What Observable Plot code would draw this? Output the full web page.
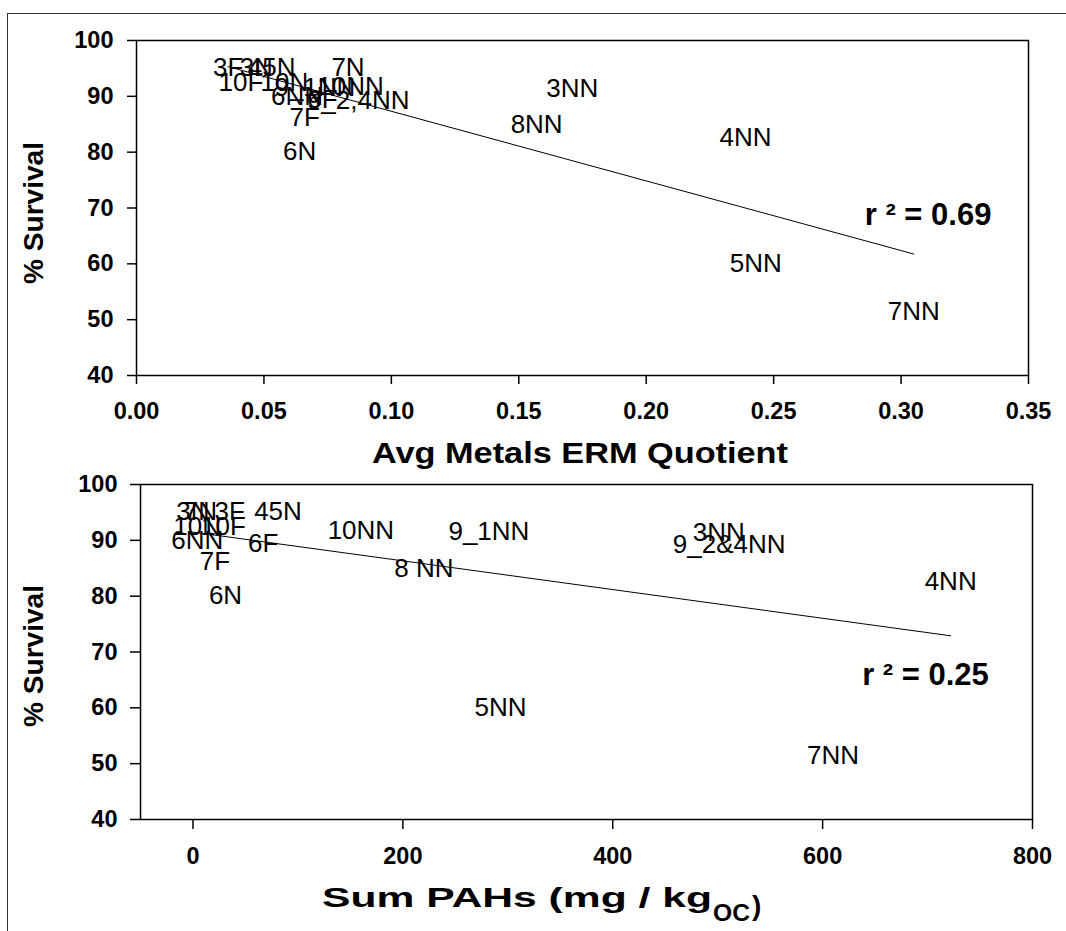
<!DOCTYPE html>
<html><head><meta charset="utf-8">
<script src="https://cdn.jsdelivr.net/npm/d3@7"></script>
<script src="https://cdn.jsdelivr.net/npm/@observablehq/plot@0.6"></script>
<style>
html,body{margin:0;padding:0;background:#fff;overflow:hidden;}
#page{position:relative;width:1066px;height:931px;overflow:hidden;font-family:"Liberation Sans",Arial,sans-serif;}
#frame{position:absolute;left:7px;top:13px;width:1200px;height:1100px;border-left:1.5px solid #333;border-top:1.5px solid #333;box-sizing:border-box;}
.chart{position:absolute;left:0;}
g[aria-label="x-axis tick"] path, g[aria-label="y-axis tick"] path{stroke-width:1.5;}
</style></head>
<body>
<div id="page"><div id="frame"></div><div id="top" class="chart" style="top:0px"></div><div id="bot" class="chart" style="top:470px"></div></div>
<script>
// Station labels as written on each panel
const metalLabels = ["3N","7N","3F","45N","10N","10F","6NN","6F","7F","6N","10NN","9_1NN","8NN","3NN","9_2,4NN","4NN","5NN","7NN"];
const pahLabels   = ["3N","7N","3F","45N","10N","10F","6NN","6F","7F","6N","10NN","9_1NN","8 NN","3NN","9_2&4NN","4NN","5NN","7NN"];
// % Survival per station
const survival = [95.2,95.2,95.2,95.2,92.5,92.5,90.0,89.4,86.2,80.0,91.7,91.6,85.0,91.4,89.3,82.6,60.0,51.4];
// Avg Metals ERM Quotient per station
const metalsERM = [0.047,0.083,0.036,0.053,0.058,0.041,0.063,0.073,0.066,0.064,0.084,0.070,0.157,0.171,0.087,0.239,0.243,0.305];
// Sum PAHs (mg/kg OC) per station
const sumPAH = [0,7,35,81,4,29,4,67,21,31,160,282,220,501,511,722,293,610];
// axis ticks
const yTicks = [40,50,60,70,80,90,100];
const metalTicks = [0,0.05,0.10,0.15,0.20,0.25,0.30,0.35];
const pahTicks = [0,200,400,600,800];
// r² annotations
const r2Metal = [{x:0.3106, y:68.7, text:"r ² = 0.69"}];
const r2PAH = [{x:698, y:65.8, text:"r ² = 0.25"}];

const FONT = "'Liberation Sans', Arial, Helvetica, sans-serif";

function panel(o){
  const rows = o.labels.map((l,i)=>({label:l, x:o.xVals[i], y:survival[i]}));
  const svg = Plot.plot({
    width:1066, height:o.height,
    marginTop:o.mt, marginBottom:o.mb, marginLeft:o.ml, marginRight:o.mr,
    style:{fontFamily:FONT, fontSize:"23.5px", fontWeight:"bold", color:"black", background:"transparent", overflow:"visible"},
    x:{domain:o.xDomain, ticks:o.xTicks, tickFormat:o.xFormat, tickSize:o.xTickSize, tickPadding:o.xPad, label:null},
    y:{domain:[40,100], ticks:yTicks, tickSize:o.yTickSize, tickPadding:o.yPad, label:null},
    marks:[
      Plot.frame({stroke:"black", strokeWidth:1.5}),
      Plot.linearRegressionY(rows, {x:"x", y:"y", ci:0, stroke:"black", strokeWidth:1}),
      Plot.text(rows, {x:"x", y:"y", text:"label", fontSize:26, fontWeight:"normal", fill:"black"}),
      Plot.text(o.r2, {x:"x", y:"y", text:"text", fontSize:31, fontWeight:"bold", fill:"black", ariaLabel:"r2"})
    ]
  });
  const s = d3.select(svg);
  s.selectAll('g[aria-label="r2"] text').attr("textLength",137).attr("lengthAdjust","spacingAndGlyphs");
  // y title
  s.append("text").attr("transform",`translate(${o.yTitleX},${o.yTitleY}) rotate(-90)`)
    .attr("text-anchor","middle").attr("font-family",FONT).attr("font-weight","bold")
    .attr("font-size",27).attr("fill","black").attr("textLength",142).attr("lengthAdjust","spacingAndGlyphs")
    .text("% Survival");
  o.xTitle(s);
  return svg;
}

const topSvg = panel({
  labels:metalLabels, xVals:metalsERM, xDomain:[0,0.35], xTicks:metalTicks, xFormat:d3.format(".2f"),
  height:470, mt:40, mb:95, ml:136, mr:38, xTickSize:9, xPad:18, yTickSize:9, yPad:14, r2:r2Metal,
  yTitleX:43, yTitleY:213,
  xTitle:(s)=>{
    s.append("text").attr("x",372).attr("y",463).attr("text-anchor","start").attr("font-family",FONT).attr("font-weight","bold")
     .attr("font-size",30).attr("fill","black").attr("textLength",416).attr("lengthAdjust","spacingAndGlyphs")
     .text("Avg Metals ERM Quotient");
  }
});
document.getElementById("top").appendChild(topSvg);

const botSvg = panel({
  labels:pahLabels, xVals:sumPAH, xDomain:[-50,800], xTicks:pahTicks, xFormat:d3.format("d"),
  height:461, mt:14, mb:112, ml:140, mr:34, xTickSize:10, xPad:18, yTickSize:10, yPad:13, r2:r2PAH,
  yTitleX:43, yTitleY:186,
  xTitle:(s)=>{
    s.append("text").attr("x",322).attr("y",437).attr("text-anchor","start").attr("font-family",FONT).attr("font-weight","bold")
     .attr("font-size",28).attr("fill","black").attr("textLength",390).attr("lengthAdjust","spacingAndGlyphs")
     .text("Sum PAHs (mg / kg");
    s.append("text").attr("x",713).attr("y",451).attr("text-anchor","start").attr("font-family",FONT).attr("font-weight","bold")
     .attr("font-size",23).attr("fill","black").attr("textLength",37).attr("lengthAdjust","spacingAndGlyphs")
     .text("OC");
    s.append("text").attr("x",752).attr("y",445).attr("text-anchor","start").attr("font-family",FONT).attr("font-weight","bold")
     .attr("font-size",28).attr("fill","black")
     .text(")");
  }
});
document.getElementById("bot").appendChild(botSvg);
</script>
</body></html>
